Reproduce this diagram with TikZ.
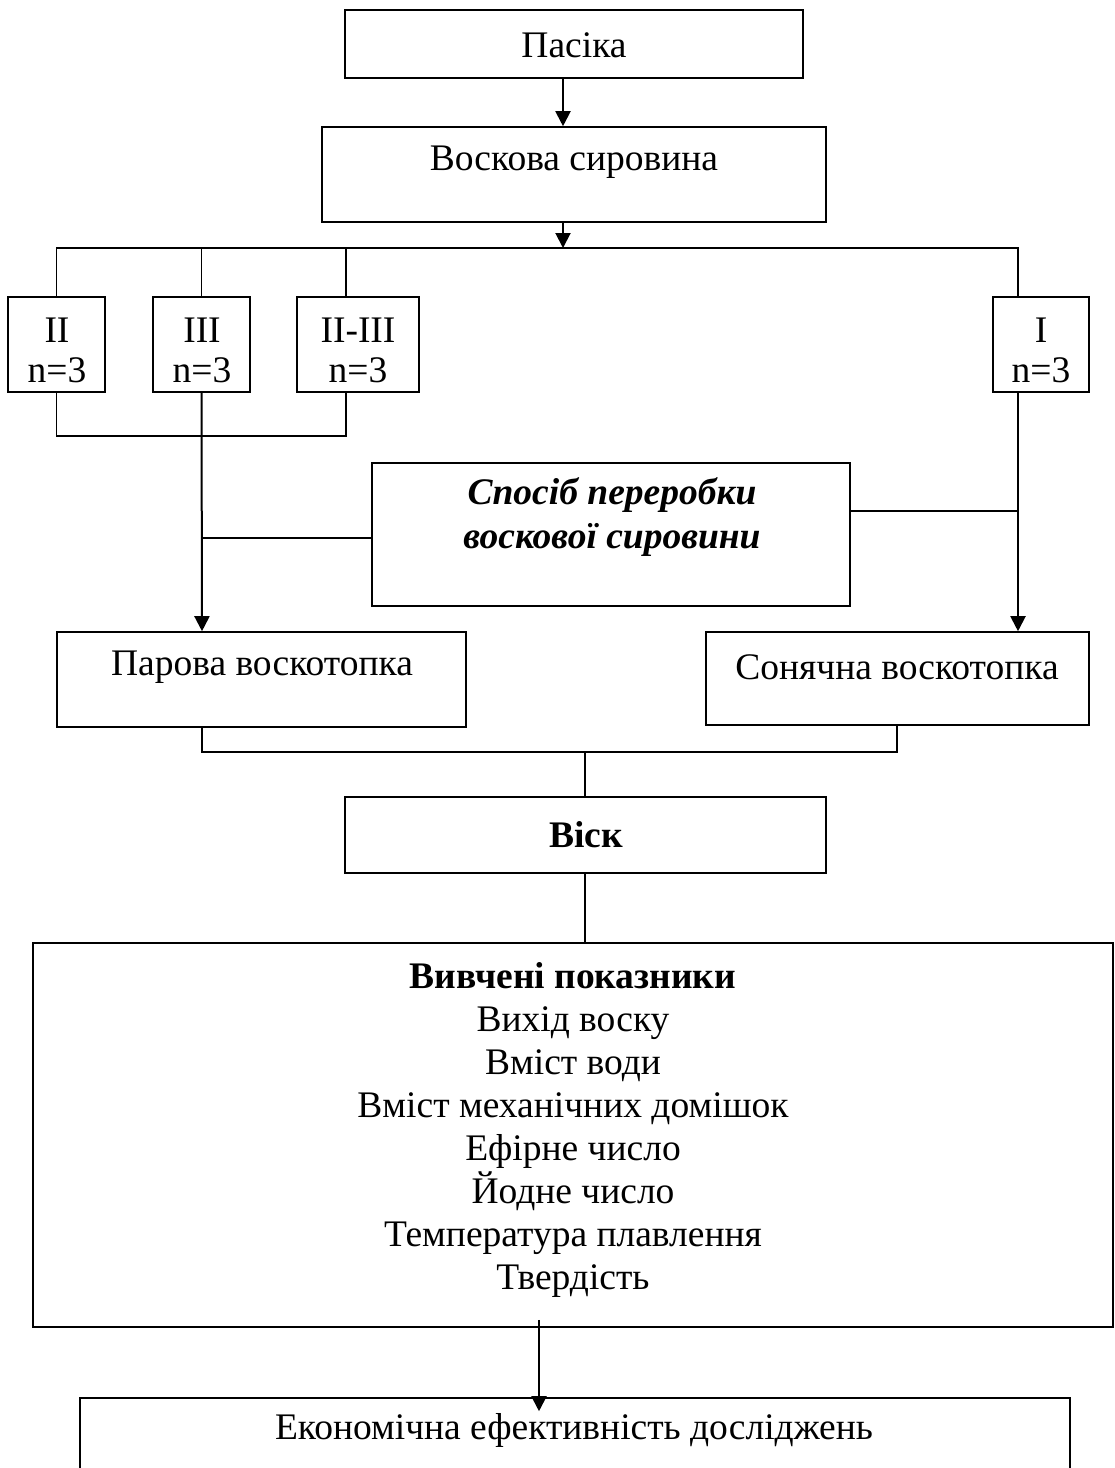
\documentclass[tikz,border=0pt]{standalone}
\usepackage{fontspec}
\setmainfont{Liberation Serif}
\usetikzlibrary{arrows.meta,calc}
\begin{document}
\begin{tikzpicture}[x=1pt,y=-1pt,
  box/.style={draw, line width=1.6pt, rectangle, inner sep=0pt},
  txt/.style={inner sep=0pt, font=\fontsize{37.5}{43}\selectfont},
  conn/.style={line width=1.3pt},
  arr/.style={line width=2pt, -{Triangle[length=15pt,width=15pt]}}]
\useasboundingbox (0,0) rectangle (1115,1468);
% boxes
\node[box, minimum width=458, minimum height=68] (pas) at (574,44) {};
\node[box, minimum width=504, minimum height=95] (vosk) at (574,174.5) {};
\node[box, minimum width=97, minimum height=95] (b2) at (56.5,344.5) {};
\node[box, minimum width=97, minimum height=95] (b3) at (201.5,344.5) {};
\node[box, minimum width=122, minimum height=95] (b23) at (358,344.5) {};
\node[box, minimum width=96, minimum height=95] (b1) at (1041,344.5) {};
\node[box, minimum width=478, minimum height=143] (spos) at (611,534.5) {};
\node[box, minimum width=409, minimum height=95] (par) at (261.5,679.5) {};
\node[box, minimum width=383, minimum height=93] (son) at (897.5,678.5) {};
\node[box, minimum width=481, minimum height=76] (visk) at (585.5,835) {};
\node[box, minimum width=1080, minimum height=384] (big) at (573,1135) {};
\node[box, minimum width=990, minimum height=90] (eko) at (575,1443) {};
% texts
\node[txt] (tpas) at (574,45) {Пасіка};
\node[txt] (tvosk) at (574,162) {Воскова сировина};
\node[txt] (t2a) at (57,330) {II};
\node[txt] (t2b) at (57,370) {n=3};
\node[txt] (t3a) at (202,330) {III};
\node[txt] (t3b) at (202,370) {n=3};
\node[txt] (t23a) at (358,330) {II-III};
\node[txt] (t23b) at (358,370) {n=3};
\node[txt] (t1a) at (1041,330) {I};
\node[txt] (t1b) at (1041,370) {n=3};
\node[txt, font=\fontsize{37.5}{44}\selectfont\bfseries\itshape, align=center] (tspos) at (612,517) {Спосіб переробки\\воскової сировини};
\node[txt] (tpar) at (262,667) {Парова воскотопка};
\node[txt] (tson) at (897,667) {Сонячна воскотопка};
\node[txt, font=\fontsize{37.5}{43}\selectfont\bfseries] (tvisk) at (586,835) {Віск};
\node[txt, align=center] (tbig) at (573,1130) {\textbf{Вивчені показники}\\Вихід воску\\Вміст води\\Вміст механічних домішок\\Ефірне число\\Йодне число\\Температура плавлення\\Твердість};
\node[txt] (teko) at (574,1430) {Економічна ефективність досліджень};
% coordinates
\coordinate (xa) at (563,0);
\coordinate (bus) at (563,248);
\coordinate (bra) at (202,436);
\coordinate (x346) at (346,0);
\coordinate (x1018) at (1018,0);
\coordinate (x202) at (202,0);
\coordinate (x897) at (897,0);
\coordinate (j1) at (585,752);
\coordinate (x539) at (539,0);
\coordinate (ysl) at (0,538);
\coordinate (ysr) at (0,511);
% connectors
\draw[arr] (pas.south -| xa) -- (vosk.north -| xa);
\draw[arr] (vosk.south -| xa) -- (bus);
\draw[conn] (b2.north) |- (bus) -| (b1.north -| x1018);
\draw[conn] (b3.north) -- (b3.north |- bus);
\draw[conn] (b23.north -| x346) -- (x346 |- bus);
\draw[conn] (b2.south) |- (bra) -| (b23.south -| x346);
\draw[arr] (b3.south) -- (par.north -| x202);
\draw[arr] (b1.south -| x1018) -- (son.north -| x1018);
\draw[conn] (spos.west |- ysl) -- (x202 |- ysl);
\draw[conn] (spos.east |- ysr) -- (x1018 |- ysr);
\draw[conn] (par.south -| x202) |- (j1) -| (son.south -| x897);
\draw[conn] (j1) -- (visk.north -| j1);
\draw[conn] (visk.south -| j1) -- (big.north -| j1);
\draw[arr, shorten <=-8pt, shorten >=-14pt] (big.south -| x539) -- (eko.north -| x539);
\end{tikzpicture}
\end{document}
